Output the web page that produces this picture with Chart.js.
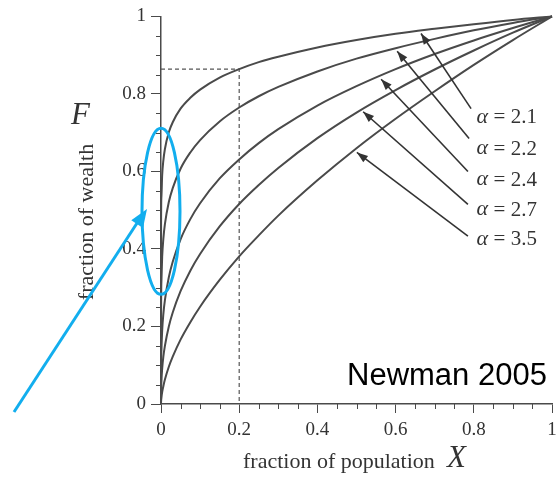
<!DOCTYPE html>
<html>
<head>
<meta charset="utf-8">
<script src="https://cdn.jsdelivr.net/npm/chart.js@4/dist/chart.umd.min.js"></script>
<style>
  html, body { margin: 0; padding: 0; background: #fff; }
  #wrap { width: 560px; height: 484px; }
</style>
</head>
<body>
<div id="wrap"><canvas id="lorenz" width="560" height="484"></canvas></div>
<script>
// fraction of population X (richest first)
const popFraction = [0, 0.0002, 0.001, 0.003, 0.006, 0.01, 0.02, 0.03, 0.05, 0.075, 0.1, 0.15, 0.2, 0.25, 0.3, 0.4, 0.5, 0.6, 0.7, 0.8, 0.9, 1];

// fraction of wealth F held by them, one list per exponent
const wealth21 = [0, 0.461, 0.534, 0.590, 0.628, 0.658, 0.701, 0.727, 0.762, 0.790, 0.811, 0.842, 0.864, 0.882, 0.896, 0.920, 0.939, 0.955, 0.968, 0.980, 0.991, 1];
const wealth22 = [0, 0.242, 0.316, 0.380, 0.426, 0.464, 0.521, 0.557, 0.607, 0.649, 0.681, 0.729, 0.765, 0.794, 0.818, 0.858, 0.891, 0.918, 0.942, 0.964, 0.983, 1];
const wealth24 = [0, 0.088, 0.139, 0.190, 0.232, 0.268, 0.327, 0.367, 0.425, 0.477, 0.518, 0.582, 0.631, 0.673, 0.709, 0.770, 0.820, 0.864, 0.903, 0.938, 0.970, 1];
const wealth27 = [0, 0.030, 0.058, 0.091, 0.122, 0.150, 0.200, 0.236, 0.291, 0.344, 0.387, 0.458, 0.516, 0.565, 0.609, 0.686, 0.752, 0.810, 0.863, 0.912, 0.958, 1];
const wealth35 = [0, 0.006, 0.016, 0.031, 0.046, 0.063, 0.096, 0.122, 0.166, 0.211, 0.251, 0.320, 0.381, 0.435, 0.486, 0.577, 0.660, 0.736, 0.807, 0.875, 0.939, 1];

const alphaLabels = ['2.1', '2.2', '2.4', '2.7', '3.5'];

// dashed guide: top 20% own ~86% of the wealth
const guideX = [0, 0.2, 0.2];
const guideY = [0.864, 0.864, 0];

const ink = '#4a4a4a';
const cyan = '#12aeee';
const serif = '"Liberation Serif", "DejaVu Serif", serif';

function toPoints(xs, ys) {
    return xs.map((x, i) => ({ x: x, y: ys[i] }));
}

const curveStyle = {
    borderColor: ink,
    borderWidth: 2,
    pointRadius: 0,
    fill: false,
    cubicInterpolationMode: 'monotone',
    clip: false
};

// arrow callouts in data units: tip on the curve, tail near the label
const callouts = [
    { tip: [0.665, 0.956], tail: [0.793, 0.762], at: [0.807, 0.741] },
    { tip: [0.604, 0.910], tail: [0.788, 0.685], at: [0.807, 0.659] },
    { tip: [0.563, 0.838], tail: [0.785, 0.600], at: [0.807, 0.579] },
    { tip: [0.517, 0.754], tail: [0.785, 0.515], at: [0.807, 0.503] },
    { tip: [0.501, 0.649], tail: [0.785, 0.433], at: [0.807, 0.426] }
];

function arrowHead(ctx, x0, y0, x1, y1, len, half) {
    const a = Math.atan2(y1 - y0, x1 - x0);
    ctx.beginPath();
    ctx.moveTo(x1, y1);
    ctx.lineTo(x1 - len * Math.cos(a) + half * Math.sin(a), y1 - len * Math.sin(a) - half * Math.cos(a));
    ctx.lineTo(x1 - len * Math.cos(a) - half * Math.sin(a), y1 - len * Math.sin(a) + half * Math.cos(a));
    ctx.closePath();
    ctx.fill();
}

// plain tick text: 0, 0.2 ... 1
function tickText(v) {
    return String(Math.round(v * 10) / 10);
}

// minor ticks every 0.05 on both axes
const minorTicks = {
    id: 'minorTicks',
    afterDraw(chart) {
        const { ctx, scales: { x, y } } = chart;
        ctx.save();
        ctx.strokeStyle = ink;
        ctx.lineWidth = 1;
        for (let i = 0; i <= 20; i++) {
            if (i % 4 === 0) continue;
            const v = i * 0.05;
            const px = Math.round(x.getPixelForValue(v)) + 0.5;
            const py = Math.round(y.getPixelForValue(v)) + 0.5;
            ctx.beginPath();
            ctx.moveTo(px, y.bottom);
            ctx.lineTo(px, y.bottom + 5);
            ctx.moveTo(x.left, py);
            ctx.lineTo(x.left - 5, py);
            ctx.stroke();
        }
        ctx.restore();
    }
};

// arrows, alpha labels, axis titles and the source note
const annotations = {
    id: 'annotations',
    afterDraw(chart) {
        const { ctx, scales: { x, y } } = chart;
        ctx.save();
        ctx.strokeStyle = '#333';
        ctx.fillStyle = '#333';
        ctx.lineWidth = 1.6;
        callouts.forEach((c, i) => {
            const tx = x.getPixelForValue(c.tail[0]), ty = y.getPixelForValue(c.tail[1]);
            const hx = x.getPixelForValue(c.tip[0]), hy = y.getPixelForValue(c.tip[1]);
            ctx.beginPath();
            ctx.moveTo(tx, ty);
            ctx.lineTo(hx, hy);
            ctx.stroke();
            arrowHead(ctx, tx, ty, hx, hy, 11, 4);

            const lx = x.getPixelForValue(c.at[0]), ly = y.getPixelForValue(c.at[1]);
            ctx.textBaseline = 'middle';
            ctx.textAlign = 'left';
            ctx.font = 'italic 22px ' + serif;
            ctx.fillText('\u03b1', lx, ly);
            ctx.font = '21px ' + serif;
            ctx.fillText('= ' + alphaLabels[i], lx + 17, ly + 1);
        });

        // axis titles
        ctx.fillStyle = '#333';
        ctx.font = '22px ' + serif;
        ctx.textAlign = 'left';
        ctx.textBaseline = 'alphabetic';
        ctx.fillText('fraction of population', 243, 468);
        ctx.font = 'italic 31px ' + serif;
        ctx.fillText('X', 447, 467);

        ctx.save();
        ctx.translate(93, 222);
        ctx.rotate(-Math.PI / 2);
        ctx.textAlign = 'center';
        ctx.font = '22px ' + serif;
        ctx.fillText('fraction of wealth', 0, 0);
        ctx.restore();
        ctx.font = 'italic 31px ' + serif;
        ctx.textAlign = 'left';
        ctx.fillText('F', 71, 124);

        ctx.fillStyle = '#000';
        ctx.font = '31px "Liberation Sans", Arial, sans-serif';
        ctx.fillText('Newman 2005', 347, 385);
        ctx.restore();
    }
};

// cyan highlight around the X = 0 edge
const highlight = {
    id: 'highlight',
    afterDraw(chart) {
        const { ctx, scales: { x, y } } = chart;
        const cx = x.getPixelForValue(0), cy = y.getPixelForValue(0.497);
        ctx.save();
        ctx.strokeStyle = cyan;
        ctx.fillStyle = cyan;
        ctx.lineWidth = 3;
        ctx.beginPath();
        ctx.ellipse(cx, cy, 19, 83, 0, 0, Math.PI * 2);
        ctx.stroke();
        ctx.beginPath();
        ctx.moveTo(14, 412);
        ctx.lineTo(141, 217);
        ctx.stroke();
        arrowHead(ctx, 14, 412, 147, 209, 18, 7);
        ctx.restore();
    }
};

new Chart(document.getElementById('lorenz'), {
    type: 'line',
    data: {
        datasets: [
            { data: toPoints(popFraction, wealth21), ...curveStyle },
            { data: toPoints(popFraction, wealth22), ...curveStyle },
            { data: toPoints(popFraction, wealth24), ...curveStyle },
            { data: toPoints(popFraction, wealth27), ...curveStyle },
            { data: toPoints(popFraction, wealth35), ...curveStyle },
            {
                data: toPoints(guideX, guideY),
                borderColor: '#555',
                borderWidth: 1.2,
                borderDash: [4, 3],
                pointRadius: 0,
                tension: 0,
                clip: false
            }
        ]
    },
    options: {
        responsive: false,
        animation: false,
        layout: { padding: { top: 14, right: 8, left: 0, bottom: 0 } },
        plugins: {
            legend: { display: false },
            tooltip: { enabled: false }
        },
        scales: {
            x: {
                type: 'linear',
                min: 0,
                max: 1,
                afterFit: s => { s.height = 80; s.paddingRight = 0; s.paddingLeft = 0; },
                border: { display: true, color: ink, width: 1.5 },
                grid: { drawOnChartArea: false, drawTicks: true, tickLength: 9, color: ink },
                ticks: {
                    stepSize: 0.2,
                    padding: 6,
                    color: '#333',
                    font: { family: serif, size: 19 },
                    callback: tickText
                }
            },
            y: {
                type: 'linear',
                min: 0,
                max: 1,
                afterFit: s => { s.width = 161; },
                border: { display: true, color: ink, width: 1.5 },
                grid: { drawOnChartArea: false, drawTicks: true, tickLength: 10, color: ink },
                ticks: {
                    stepSize: 0.2,
                    padding: 5,
                    color: '#333',
                    font: { family: serif, size: 19 },
                    callback: tickText
                }
            }
        }
    },
    plugins: [minorTicks, annotations, highlight]
});
</script>
</body>
</html>
